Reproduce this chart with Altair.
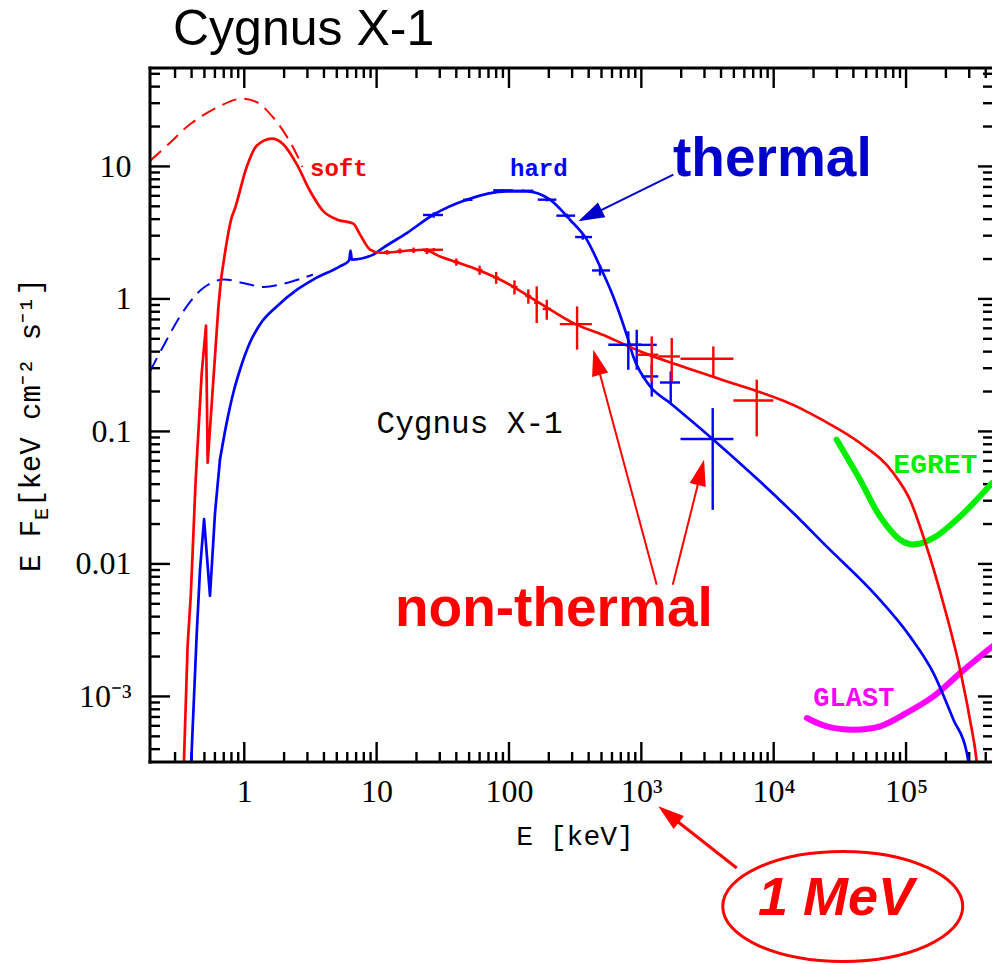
import math
import altair as alt
import pandas as pd

# ---------------- layout ----------------
W, H = 842, 694
E_MIN, E_MAX = 0.194, 4.46e5
F_MIN, F_MAX = 3.2e-4, 55.3

# ---------------- data ----------------
# soft state, red solid (data + model)
soft_E = [0.345, 0.373, 0.394, 0.407, 0.429, 0.477, 0.514, 0.529, 0.637, 0.667, 0.803, 0.85,
          1.04, 1.24, 1.61, 1.97, 2.49, 3.14, 3.95, 4.99, 6.66, 7.48, 8.91, 10.6, 22.5, 30.1,
          53.8, 96, 171, 306, 547, 977, 3716, 15800, 23100, 44900, 80100, 107000, 143000,
          191000, 256000, 304000, 342000, 365000]
soft_F = [2.0e-4, 0.00238, 0.00569, 0.0121, 0.042, 0.276, 0.628, 0.058, 0.86, 1.40, 4.1, 4.8,
          9.8, 14.3, 16.2, 14.7, 10.4, 6.52, 4.6, 3.98, 3.7, 3.07, 2.36, 2.23, 2.35, 2.09,
          1.71, 1.32, 0.93, 0.657, 0.521, 0.402, 0.253, 0.150, 0.1226, 0.0817, 0.0485, 0.0305, 0.0135,
          0.00507, 0.00159, 6.67e-4, 3.2e-4, 1.5e-4]
SOFT_SPLIT = 9   # points before this index form the sharp low-energy edge

# soft state, red dashed (unabsorbed model)
soft_model_E = [0.194, 0.275, 0.389, 0.618, 0.93, 1.24, 1.66, 2.09, 2.49, 2.75]
soft_model_F = [11.0, 15.1, 20.8, 27.7, 32.4, 30.6, 23.3, 16.9, 12.3, 9.9]

# hard state, blue solid (data + model)
hard_E = [0.39, 0.405, 0.437, 0.463, 0.497, 0.551, 0.601, 0.655, 0.736, 0.826, 0.928, 1.10,
          1.31, 1.76, 2.49, 3.32, 5.28, 6.2, 6.35, 6.5, 9.44, 11.2, 16.9, 26.8, 47.9, 96, 136,
          204, 289, 387, 487, 614, 774, 869, 1164, 1648, 3500, 14060, 25200, 60100,
          107000, 161000, 228000, 288000, 330000]
hard_F = [2.0e-4, 5.0e-4, 0.00292, 0.00904, 0.0218, 0.00575, 0.0242, 0.0611, 0.116, 0.195, 0.292,
          0.465, 0.639, 0.877, 1.17, 1.40, 1.76, 1.95, 2.32, 1.98, 2.16, 2.43, 3.14, 4.32, 5.61,
          6.48, 6.48, 5.61, 3.96, 2.80, 1.76, 1.04, 0.537, 0.368, 0.219, 0.164, 0.0866,
          0.0242, 0.0135, 0.00569, 0.00284, 0.0015, 6.67e-4, 3.74e-4, 1.5e-4]
HARD_SPLIT = 7

# hard state, blue dashed (unabsorbed model)
hard_model_E = [0.194, 0.244, 0.346, 0.49, 0.675, 0.98, 1.39, 1.97, 2.79, 3.3]
hard_model_F = [0.284, 0.438, 0.805, 1.21, 1.40, 1.32, 1.23, 1.30, 1.44, 1.53]

# instrument sensitivities
egret_E = [29900, 44900, 63600, 90200, 113600, 161000, 256000, 447000]
egret_F = [0.0866, 0.0432, 0.0228, 0.0152, 0.0140, 0.0157, 0.0228, 0.0408]
glast_E = [17800, 25200, 40000, 63600, 101000, 161000, 256000, 447000]
glast_F = [6.87e-4, 5.94e-4, 5.61e-4, 5.94e-4, 7.5e-4, 1.0e-3, 0.0015, 0.00238]

# error-bar crosses: E, E_lo, E_hi, F, F_lo, F_hi
soft_pts_E = [12, 15, 19, 24, 27, 40, 60, 80, 110, 140, 162, 193, 327, 1198, 1697, 3499, 7444]
soft_pts_Elo = [11.4, 14.3, 18.1, 22.9, 22.4, 38, 57, 76, 104, 133, 155, 180, 242, 923, 1343, 1977, 4960]
soft_pts_Ehi = [12.6, 15.7, 19.9, 25.1, 31.7, 42, 63, 84, 116, 147, 170, 207, 423, 1343, 1955, 4960, 9935]
soft_pts_F = [2.25, 2.30, 2.33, 2.30, 2.35, 1.90, 1.65, 1.45, 1.23, 1.05, 0.936, 0.84, 0.645, 0.379, 0.368, 0.354, 0.171]
soft_pts_Flo = [2.16, 2.20, 2.22, 2.18, 2.28, 1.78, 1.52, 1.30, 1.08, 0.92, 0.658, 0.697, 0.414, 0.238, 0.238, 0.26, 0.0917]
soft_pts_Fhi = [2.34, 2.40, 2.44, 2.42, 2.42, 2.02, 1.78, 1.60, 1.38, 1.18, 1.243, 0.986, 0.878, 0.521, 0.507, 0.438, 0.246]

hard_pts_E = [27, 48, 90, 128, 193, 273, 361, 487, 797, 923, 1198, 1667, 3461]
hard_pts_Elo = [22.4, 45, 76, 108, 165, 228, 316, 424, 563, 800, 1007, 1384, 1977]
hard_pts_Ehi = [31.7, 53, 108, 153, 228, 316, 424, 580, 1000, 1307, 1343, 1960, 4960]
hard_pts_F = [4.3, 5.6, 6.6, 6.55, 5.61, 4.25, 2.93, 1.64, 0.451, 0.45, 0.26, 0.234, 0.0876]
hard_pts_Flo = [4.1, 5.45, 6.45, 6.4, 5.45, 4.1, 2.8, 1.5, 0.292, 0.292, 0.183, 0.164, 0.0256]
hard_pts_Fhi = [4.5, 5.75, 6.75, 6.7, 5.8, 4.4, 3.05, 1.8, 0.569, 0.585, 0.319, 0.284, 0.150]

# axes
x_major = [1, 10, 100, 1e3, 1e4, 1e5]
x_labels = ["1", "10", "100", "10³", "10⁴", "10⁵"]
x_minor = [m * 10.0 ** k for k in range(-1, 6) for m in range(2, 10)
           if E_MIN * 1.2 < m * 10.0 ** k < E_MAX]
y_major = [1e-3, 1e-2, 0.1, 1, 10]
y_labels = ["10⁻³", "0.01", "0.1", "1", "10"]
y_minor = [m * 10.0 ** k for k in range(-4, 2) for m in range(2, 10)
           if F_MIN < m * 10.0 ** k < F_MAX]

RED = "#ff0000"
BLUE = "#0000ff"
DBLUE = "#0000cc"

# ---------------- helpers ----------------
LX0, LX1 = math.log10(E_MIN), math.log10(E_MAX)
LY0, LY1 = math.log10(F_MIN), math.log10(F_MAX)


def to_px(E, F):
    return (W * (math.log10(E) - LX0) / (LX1 - LX0),
            H * (LY1 - math.log10(F)) / (LY1 - LY0))


def to_data(px, py):
    return (10 ** (LX0 + px / W * (LX1 - LX0)), 10 ** (LY1 - py / H * (LY1 - LY0)))


def label_expr(values, labels):
    parts = [f"abs(log(datum.value)/LN10 - ({math.log10(v):.6f})) < 0.01 ? '{l}'"
             for v, l in zip(values, labels)]
    return " : ".join(parts) + " : ''"


xs = alt.Scale(type="log", domain=[E_MIN, E_MAX], nice=False)
ys = alt.Scale(type="log", domain=[F_MIN, F_MAX], nice=False)

x_axis = alt.Axis(values=x_major, labelExpr=label_expr(x_major, x_labels), ticks=False, tickSize=0,
                  domain=False, grid=False, title=None, labelFont="Liberation Serif",
                  labelFontSize=32, labelColor="black", labelPadding=14, labelOverlap=False,
                  labelFlush=False)
y_axis = alt.Axis(values=y_major, labelExpr=label_expr(y_major, y_labels), ticks=False, tickSize=0,
                  domain=False, grid=False, title=None, labelFont="Liberation Serif",
                  labelFontSize=32, labelColor="black", labelPadding=19, labelOverlap=False,
                  labelFlush=False)


def X(f="E"):
    return alt.X(f"{f}:Q", scale=xs, axis=x_axis)


def Y(f="F"):
    return alt.Y(f"{f}:Q", scale=ys, axis=y_axis)


ONE = pd.DataFrame({"a": [0]})


def curve(E, F, color, width, dash=None, interp="monotone"):
    kw = dict(color=color, strokeWidth=width, clip=True, interpolate=interp,
              strokeJoin="round", strokeCap="round")
    if dash:
        kw["strokeDash"] = dash
        kw["strokeCap"] = "butt"
    df = pd.DataFrame({"E": E, "F": F})
    return alt.Chart(df).mark_line(**kw).encode(x=X(), y=Y())


def crosses(E, Elo, Ehi, F, Flo, Fhi, color, width=2.4):
    df = pd.DataFrame({"E": E, "Elo": Elo, "Ehi": Ehi, "F": F, "Flo": Flo, "Fhi": Fhi})
    h = alt.Chart(df).mark_rule(color=color, strokeWidth=width, clip=True).encode(
        x=X("Elo"), x2="Ehi:Q", y=Y())
    v = alt.Chart(df).mark_rule(color=color, strokeWidth=width, clip=True).encode(
        x=X(), y=Y("Flo"), y2="Fhi:Q")
    return [h, v]


def text(t, E, F, color, font, size, weight="normal", style="normal", align="left"):
    df = pd.DataFrame({"E": [E], "F": [F], "t": [t]})
    return alt.Chart(df).mark_text(color=color, font=font, fontSize=size, fontWeight=weight,
                                   fontStyle=style, align=align, baseline="alphabetic").encode(
        x=X(), y=Y(), text="t:N")


def arrow(tail, tip, color, width, head_len=26, head_half=0.32):
    x0, y0 = to_px(*tail)
    x1, y1 = to_px(*tip)
    dx, dy = x1 - x0, y1 - y0
    d = math.hypot(dx, dy)
    base = to_data(x1 - dx / d * head_len * 0.85, y1 - dy / d * head_len * 0.85)
    ang = math.degrees(math.atan2(dx, -dy)) % 360
    ldf = pd.DataFrame({"E": [tail[0]], "F": [tail[1]], "E2": [base[0]], "F2": [base[1]]})
    rule = alt.Chart(ldf).mark_rule(color=color, strokeWidth=width).encode(
        x=X(), y=Y(), x2="E2:Q", y2="F2:Q")
    hdf = pd.DataFrame({"E": [tip[0]], "F": [tip[1]]})
    head = alt.Chart(hdf).mark_point(
        shape=f"M0,0 L{head_half},1 L-{head_half},1 Z", size=(2 * head_len) ** 2, filled=True,
        color=color, opacity=1, angle=ang, strokeWidth=0).encode(x=X(), y=Y())
    return [rule, head]


# ---------------- frame & ticks ----------------
frame = [
    alt.Chart(ONE).mark_rule(color="black", strokeWidth=3, strokeCap="square").encode(
        x=alt.value(0), x2=alt.value(W), y=alt.value(H)),
    alt.Chart(ONE).mark_rule(color="black", strokeWidth=3, strokeCap="square").encode(
        x=alt.value(0), x2=alt.value(W), y=alt.value(0)),
    alt.Chart(ONE).mark_rule(color="black", strokeWidth=3, strokeCap="square").encode(
        x=alt.value(0), y=alt.value(0), y2=alt.value(H)),
]


def xticks(values, length, side):
    df = pd.DataFrame({"E": values})
    if side == "bottom":
        enc = dict(y=alt.value(H), y2=alt.value(H - length))
    else:
        enc = dict(y=alt.value(0), y2=alt.value(length))
    return alt.Chart(df).mark_rule(color="black", strokeWidth=2.4).encode(x=X(), **enc)


def yticks(values, length, side):
    df = pd.DataFrame({"F": values})
    if side == "left":
        enc = dict(x=alt.value(0), x2=alt.value(length))
    else:
        enc = dict(x=alt.value(W), x2=alt.value(W - length))
    return alt.Chart(df).mark_rule(color="black", strokeWidth=2.4).encode(y=Y(), **enc)


ticks = [xticks(x_major, 20, "bottom"), xticks(x_minor, 10, "bottom"),
         xticks(x_major, 20, "top"), xticks(x_minor, 10, "top"),
         yticks(y_major, 20, "left"), yticks(y_minor, 10, "left"),
         yticks(y_major, 14, "right"), yticks(y_minor, 9, "right")]

# ---------------- curves ----------------
curves = [
    curve(soft_model_E, soft_model_F, RED, 2, dash=[15, 8], interp="catmull-rom"),
    curve(hard_model_E, hard_model_F, BLUE, 2, dash=[15, 8], interp="catmull-rom"),
    curve(egret_E, egret_F, "#00ee00", 6, interp="catmull-rom"),
    curve(glast_E, glast_F, "#ff00ff", 6, interp="catmull-rom"),
    curve(hard_E[:HARD_SPLIT + 1], hard_F[:HARD_SPLIT + 1], BLUE, 2.7, interp="linear"),
    curve(hard_E[HARD_SPLIT:], hard_F[HARD_SPLIT:], BLUE, 2.7),
    curve(soft_E[:SOFT_SPLIT + 1], soft_F[:SOFT_SPLIT + 1], RED, 2.7, interp="linear"),
    curve(soft_E[SOFT_SPLIT:], soft_F[SOFT_SPLIT:], RED, 2.7),
]
curves += crosses(hard_pts_E, hard_pts_Elo, hard_pts_Ehi, hard_pts_F, hard_pts_Flo, hard_pts_Fhi, BLUE)
curves += crosses(soft_pts_E, soft_pts_Elo, soft_pts_Ehi, soft_pts_F, soft_pts_Flo, soft_pts_Fhi, RED)

# ---------------- annotations ----------------
notes = [
    text("soft", 3.14, 8.49, RED, "Liberation Mono", 24, "bold"),
    text("hard", 101.8, 8.49, BLUE, "Liberation Mono", 24, "bold"),
    text("thermal", 1734, 8.49, DBLUE, "Liberation Sans", 55, "bold"),
    text("Cygnus X-1", 10.0, 0.0973, "black", "Liberation Mono", 31),
    text("EGRET", 80170, 0.0485, "#00ee00", "Liberation Mono", 28, "bold"),
    text("GLAST", 19940, 8.5e-4, "#ff00ff", "Liberation Mono", 27, "bold"),
    text("non-thermal", 13.76, 0.003375, RED, "Liberation Sans", 55, "bold"),
    text("1 MeV", 7597, 2.25e-5, RED, "Liberation Sans", 54, "bold", "italic"),
]
notes += arrow((1745, 8.66), (334, 3.85), DBLUE, 2)
notes += arrow((1306, 0.00697), (434, 0.414), RED, 2)
notes += arrow((1727, 0.00697), (2976, 0.0611), RED, 2)
notes += arrow((5255, 5.07e-5), (1343, 1.48e-4), RED, 3)

ell = pd.DataFrame({"E": [33240], "F": [2.6e-5]})
notes.append(alt.Chart(ell).mark_point(
    shape="M-1,0 A1,0.458 0 1,0 1,0 A1,0.458 0 1,0 -1,0 Z", size=240 ** 2, filled=False,
    stroke=RED, strokeWidth=3, opacity=1).encode(x=X(), y=Y()))

# titles (pixel-placed around the plot area)
notes.append(alt.Chart(ONE).mark_text(text="Cygnus X-1", font="Liberation Sans", fontSize=50,
                                      align="left", baseline="alphabetic", color="black").encode(
    x=alt.value(23), y=alt.value(-23)))
notes.append(alt.Chart(ONE).mark_text(text="E [keV]", font="Liberation Mono", fontSize=28,
                                      align="center", baseline="alphabetic", color="black").encode(
    x=alt.value(425), y=alt.value(777)))
notes.append(alt.Chart(ONE).mark_text(text="E F", font="Liberation Mono", fontSize=29, angle=270,
                                      align="left", baseline="alphabetic", color="black").encode(
    x=alt.value(-110), y=alt.value(504)))
notes.append(alt.Chart(ONE).mark_text(text="E", font="Liberation Mono", fontSize=20, angle=270,
                                      align="left", baseline="alphabetic", color="black").encode(
    x=alt.value(-102), y=alt.value(452)))
notes.append(alt.Chart(ONE).mark_text(text=" [keV cm⁻² s⁻¹]", font="Liberation Mono", fontSize=29,
                                      angle=270, align="left", baseline="alphabetic",
                                      color="black").encode(
    x=alt.value(-110), y=alt.value(439)))

chart = alt.layer(*(ticks + curves + notes + frame)).properties(
    width=W, height=H,
    padding={"left": 150, "top": 68, "right": 0, "bottom": 964 - 68 - H},
    autosize=alt.AutoSizeParams(type="none"),
    background="white",
).configure_view(stroke=None)

chart.save("out.html", embed_options={"renderer": "svg", "actions": False})
